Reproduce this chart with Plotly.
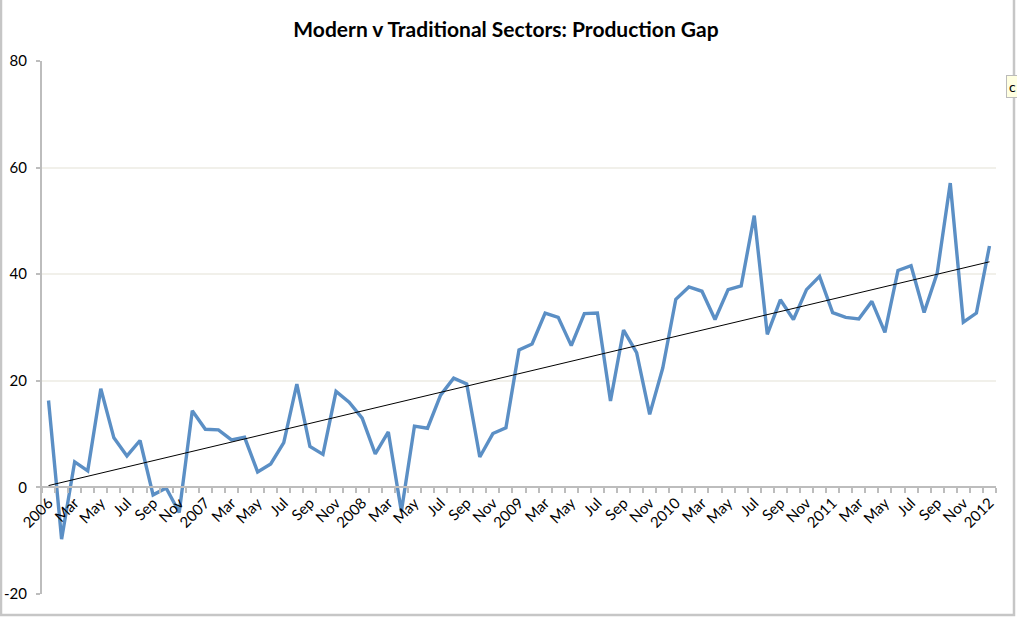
import numpy as np
import plotly.graph_objects as go

# ---- data ----
months = ["Jan", "Feb", "Mar", "Apr", "May", "Jun", "Jul", "Aug", "Sep", "Oct", "Nov", "Dec"]
years = [2006, 2007, 2008, 2009, 2010, 2011]

gap_2006 = [16.3, -9.7, 4.8, 3.1, 18.5, 9.3, 5.9, 8.8, -1.4, -0.1, -4.7, 14.4]
gap_2007 = [10.9, 10.8, 8.9, 9.4, 2.9, 4.4, 8.4, 19.4, 7.7, 6.2, 18.0, 16.0]
gap_2008 = [13.0, 6.3, 10.4, -4.5, 11.5, 11.1, 17.3, 20.5, 19.4, 5.7, 10.1, 11.2]
gap_2009 = [25.8, 26.9, 32.7, 31.9, 26.6, 32.6, 32.7, 16.2, 29.5, 25.3, 13.7, 22.4]
gap_2010 = [35.3, 37.6, 36.8, 31.5, 37.1, 37.8, 51.0, 28.7, 35.2, 31.5, 37.1, 39.6]
gap_2011 = [32.8, 31.9, 31.6, 34.9, 29.1, 40.7, 41.6, 32.8, 40.2, 57.1, 31.0, 32.7]
gap_2012 = [45.3]

values = gap_2006 + gap_2007 + gap_2008 + gap_2009 + gap_2010 + gap_2011 + gap_2012
categories = [f"{m} {y}" for y in years for m in months] + ["Jan 2012"]
idx = list(range(len(values)))

tick_idx = idx[::2]
tick_text = [categories[i].split()[1] if categories[i].startswith("Jan") else categories[i].split()[0]
             for i in tick_idx]

y_ticks = [-20, 0, 20, 40, 60, 80]
y_tick_text = [str(v) for v in y_ticks]

# linear trend line (least squares on the series)
slope, intercept = np.polyfit(idx, values, 1)
trend = [intercept + slope * i for i in idx]

# ---- figure ----
W, H = 1017, 619
L, R, T, B = 42, 21, 61, 25
pw, ph = W - L - R, H - T - B

FONT = "Lato, 'Open Sans', sans-serif"
GRAY = "#bdbdbd"

fig = go.Figure()
fig.add_trace(go.Scatter(x=idx, y=values, mode="lines",
                         line=dict(color="#5b8fc5", width=3.4),
                         hoverinfo="skip", showlegend=False))
fig.add_trace(go.Scatter(x=idx, y=trend, mode="lines",
                         line=dict(color="#000000", width=1),
                         hoverinfo="skip", showlegend=False))

fig.update_layout(
    width=W, height=H,
    margin=dict(l=L, r=R, t=T, b=B, autoexpand=False),
    paper_bgcolor="white", plot_bgcolor="white",
    font=dict(family=FONT, size=15, color="#000000"),
    title=dict(text="<b>Modern v Traditional Sectors: Production Gap</b>",
               x=506 / W, xanchor="center", y=1 - 30 / H, yanchor="middle",
               font=dict(family=FONT, size=21, color="#000000")),
    xaxis=dict(range=[-0.5, len(values) - 0.5], anchor="free", position=20 / 100,
               automargin=False,
               showline=True, linecolor=GRAY, linewidth=2,
               showgrid=False, zeroline=False,
               tickmode="array", tickvals=tick_idx, ticktext=tick_text,
               ticks="", tickangle=-45,
               tickfont=dict(family=FONT, size=15, color="#000000"),
               minor=dict(tickmode="linear", tick0=-0.5, dtick=1, ticks="outside",
                          ticklen=5, tickwidth=1.5, tickcolor=GRAY, showgrid=False)),
    yaxis=dict(range=[-20, 80], tickmode="array", tickvals=y_ticks, ticktext=y_tick_text,
               automargin=False,
               showline=True, linecolor=GRAY, linewidth=2,
               showgrid=True, gridcolor="#f1f0ea", gridwidth=1.5, zeroline=False,
               ticks="outside", ticklen=4, tickcolor=GRAY, tickwidth=1.5,
               ticklabelstandoff=6,
               tickfont=dict(family=FONT, size=15, color="#000000")),
)

# outer chart frame
def px_x(p):
    return (p - L) / pw

def px_y(p):
    return (H - B - p) / ph

fig.add_shape(type="rect", xref="paper", yref="paper",
              x0=px_x(1), x1=px_x(1014), y0=px_y(615), y1=px_y(-10),
              line=dict(color="#c6c6c6", width=2.5), fillcolor="rgba(0,0,0,0)", layer="below")

# small tooltip box at the right edge
fig.add_annotation(xref="paper", yref="paper", x=px_x(1006), y=px_y(86),
                   xanchor="left", yanchor="middle", text="c", showarrow=False,
                   font=dict(family=FONT, size=14, color="#000000"),
                   bgcolor="#ffffe1", bordercolor="#bbbbbb", borderwidth=1, borderpad=2)

fig.write_html("out.html", config={"displayModeBar": False},
               post_script="document.body.style.margin='0';")
